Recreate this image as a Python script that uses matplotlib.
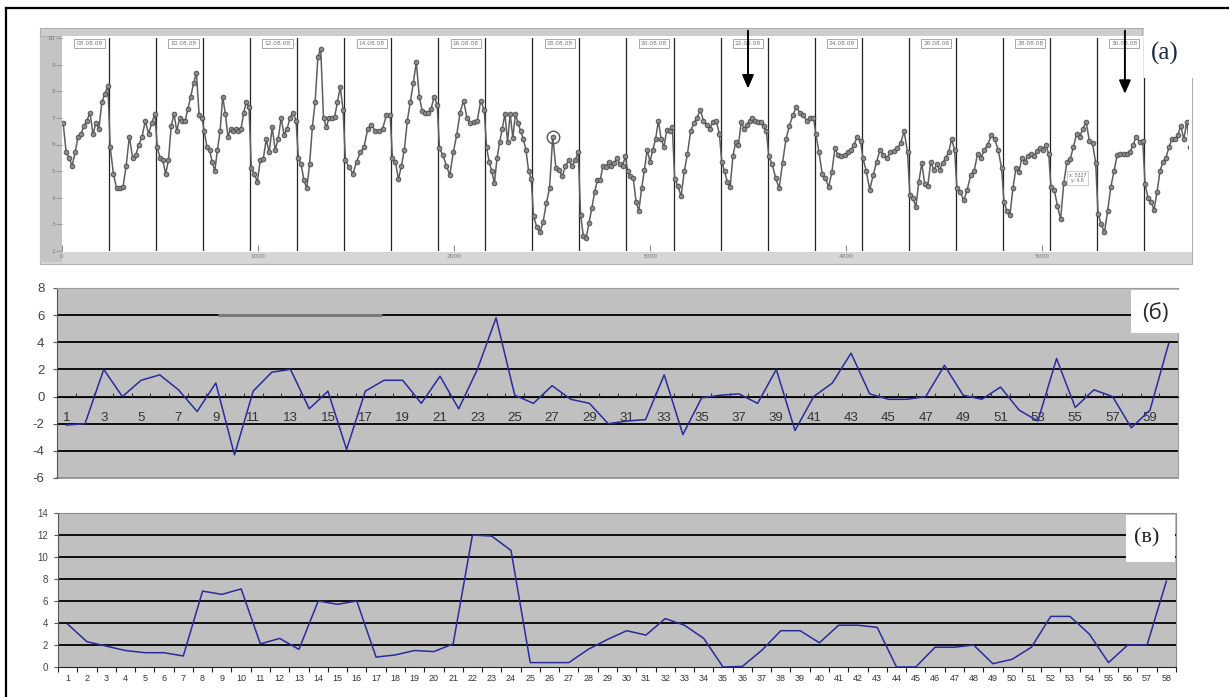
import numpy as np
import matplotlib
matplotlib.use("Agg")
import matplotlib.pyplot as plt
from matplotlib.patches import Rectangle

W, H = 1229, 697

# ---- panel (a): 24 days of readings, one list per day ----
A_DAY_LEN = 240
A_SEGMENTS = [
    [6.8, 5.7, 5.5, 5.2, 5.7, 6.3, 6.4, 6.7, 6.9, 7.2, 6.4, 6.8, 6.6, 7.6, 7.9, 8.2],
    [5.9, 4.9, 4.35, 4.35, 4.4, 5.2, 6.3, 5.5, 5.6, 6.0, 6.3, 6.9, 6.4, 6.8, 7.15],
    [5.9, 5.5, 5.4, 4.9, 5.4, 6.7, 7.15, 6.5, 7.0, 6.9, 6.9, 7.35, 7.8, 8.3, 8.7, 7.1, 7.0],
    [6.5, 5.9, 5.8, 5.35, 5.0, 5.8, 6.5, 7.8, 7.15, 6.3, 6.6, 6.5, 6.6, 6.5, 6.6, 7.2, 7.6, 7.4],
    [5.1, 4.9, 4.6, 5.4, 5.45, 6.2, 5.7, 6.65, 5.8, 6.2, 7.0, 6.35, 6.6, 7.0, 7.2, 6.9],
    [5.5, 5.25, 4.65, 4.35, 5.25, 6.65, 7.6, 9.3, 9.6, 7.0, 6.65, 7.0, 7.0, 7.05, 7.6, 8.15, 7.3],
    [5.4, 5.15, 4.9, 5.35, 5.7, 5.9, 6.6, 6.75, 6.5, 6.5, 6.6, 7.1, 7.1],
    [5.5, 5.35, 4.7, 5.2, 5.8, 6.9, 7.6, 8.3, 9.1, 7.8, 7.25, 7.2, 7.2, 7.35, 7.8, 7.5],
    [5.85, 5.6, 5.2, 4.85, 5.7, 6.35, 7.2, 7.65, 7.0, 6.8, 6.85, 6.9, 7.65, 7.3],
    [5.9, 5.35, 5.0, 4.55, 5.5, 6.1, 6.6, 7.15, 6.1, 7.15, 6.25, 7.15, 6.8, 6.5, 6.2, 5.8, 5.0, 4.7],
    [3.3, 2.9, 2.7, 3.1, 3.8, 4.35, 6.3, 5.1, 5.05, 4.8, 5.2, 5.4, 5.2, 5.4, 5.7],
    [3.35, 2.55, 2.5, 3.05, 3.6, 4.2, 4.65, 4.65, 5.2, 5.15, 5.35, 5.2, 5.3, 5.5, 5.25, 5.2, 5.55],
    [5.0, 4.8, 4.75, 3.85, 3.5, 4.35, 5.05, 5.8, 5.35, 5.8, 6.2, 6.9, 6.2, 5.9, 6.55, 6.5, 6.65],
    [4.7, 4.45, 4.05, 5.0, 5.65, 6.5, 6.8, 7.0, 7.3, 6.9, 6.75, 6.6, 6.85, 6.9, 6.4],
    [5.35, 5.0, 4.6, 4.4, 5.55, 6.1, 6.0, 6.85, 6.6, 6.75, 6.9, 7.0, 6.9, 6.85, 6.85, 6.7, 6.5],
    [5.55, 5.25, 4.75, 4.35, 5.3, 6.2, 6.7, 7.1, 7.4, 7.2, 7.1, 6.9, 7.0, 7.0],
    [6.4, 5.7, 4.9, 4.75, 4.4, 4.95, 5.85, 5.6, 5.55, 5.6, 5.7, 5.8, 6.0, 6.3, 6.15],
    [5.5, 5.0, 4.3, 4.85, 5.35, 5.8, 5.6, 5.5, 5.7, 5.75, 5.85, 6.05, 6.5, 5.7],
    [4.1, 4.0, 3.65, 4.6, 5.3, 4.5, 4.45, 5.35, 5.05, 5.25, 5.05, 5.3, 5.5, 5.7, 6.2, 5.8],
    [4.35, 4.2, 3.9, 4.3, 4.85, 5.0, 5.65, 5.5, 5.8, 6.0, 6.35, 6.2, 5.8, 5.1],
    [3.85, 3.5, 3.35, 4.35, 5.1, 4.95, 5.5, 5.35, 5.55, 5.65, 5.55, 5.75, 5.85, 5.8, 6.0, 5.65],
    [4.4, 4.3, 3.7, 3.2, 4.55, 5.35, 5.45, 5.9, 6.4, 6.3, 6.6, 6.85, 6.15, 6.05, 5.3],
    [3.4, 3.0, 2.7, 3.5, 4.4, 5.0, 5.6, 5.65, 5.65, 5.65, 5.7, 6.0, 6.3, 6.1, 6.15],
    [4.5, 4.0, 3.85, 3.55, 4.2, 5.0, 5.35, 5.5, 5.9, 6.2, 6.2, 6.35, 6.7, 6.2, 6.85, 5.9],
]
A_DATES = ["08.08.08", "10.08.08", "12.08.08", "14.08.08", "16.08.08", "18.08.08",
           "20.08.08", "22.08.08", "24.08.08", "26.08.08", "28.08.08", "30.08.08"]
A_XTICKS = [0, 1000, 2000, 3000, 4000, 5000]
A_YTICKS = [2, 3, 4, 5, 6, 7, 8, 9, 10]
A_HIGHLIGHT = (10, 6)          # day, point of the circled reading
A_ARROWS = [(3500, 8.0), (5423, 7.8)]

# ---- panel (б) ----
B_VALUES = [-2.1, -2.0, 2.0, 0.0, 1.2, 1.6, 0.5, -1.1, 1.0, -4.3,
            0.4, 1.8, 2.0, -0.9, 0.4, -3.9, 0.4, 1.2, 1.2, -0.5,
            1.5, -0.9, 2.0, 5.8, 0.1, -0.5, 0.8, -0.2, -0.5, -2.0,
            -1.8, -1.7, 1.6, -2.8, -0.1, 0.1, 0.2, -0.5, 2.0, -2.5,
            0.0, 1.0, 3.2, 0.2, -0.2, -0.2, 0.0, 2.3, 0.1, -0.2,
            0.7, -1.0, -1.8, 2.8, -0.8, 0.5, 0.0, -2.3, -1.0, 3.9]
B_YTICKS = [-6, -4, -2, 0, 2, 4, 6, 8]

# ---- panel (в) ----
C_VALUES = [3.9, 2.3, 1.9, 1.5, 1.3, 1.3, 1.0, 6.9, 6.6, 7.1,
            2.1, 2.6, 1.6, 6.0, 5.7, 6.0, 0.9, 1.1, 1.5, 1.4,
            2.1, 12.0, 11.9, 10.6, 0.4, 0.4, 0.4, 1.6, 2.5, 3.3,
            2.9, 4.4, 3.8, 2.6, 0.0, 0.05, 1.5, 3.3, 3.3, 2.2,
            3.8, 3.8, 3.6, 0.0, 0.0, 1.8, 1.8, 2.0, 0.3, 0.7,
            1.8, 4.6, 4.6, 3.0, 0.4, 2.0, 2.0, 7.8]
C_YTICKS = [0, 2, 4, 6, 8, 10, 12, 14]


def box(x0, y0, x1, y1):
    return [x0 / W, 1 - y1 / H, (x1 - x0) / W, (y1 - y0) / H]


def fig_rect(fig, x0, y0, x1, y1, fc, ec="none", lw=0.0, z=-1):
    fig.add_artist(Rectangle((x0 / W, 1 - y1 / H), (x1 - x0) / W, (y1 - y0) / H,
                             transform=fig.transFigure, fc=fc, ec=ec, lw=lw, zorder=z))


fig = plt.figure(figsize=(W / 100, H / 100), dpi=100)
fig.patch.set_facecolor("white")

# outer frame (top and left edges)
fig.add_artist(plt.Line2D([6 / W, 1], [1 - 8 / H] * 2, transform=fig.transFigure, color="k", lw=1.6))
fig.add_artist(plt.Line2D([6 / W] * 2, [0, 1 - 8 / H], transform=fig.transFigure, color="k", lw=1.6))

# ---------------- (a) ----------------
fig_rect(fig, 40, 28, 1192, 264, "#d6d6d6", "#b0b0b0", 0.8)
fig_rect(fig, 40, 28, 62, 262, "#c4c4c4")
fig_rect(fig, 40, 28, 1142, 36, "#cdcdcd", "#a8a8a8", 0.6)
fig_rect(fig, 62, 36, 1192, 252, "white")

ax_a = fig.add_axes(box(62, 38, 1188, 251))
xs_all, ys_all = [], []
for d, seg in enumerate(A_SEGMENTS):
    xs = d * A_DAY_LEN + np.linspace(6, A_DAY_LEN - 6, len(seg))
    xs_all.extend(xs)
    ys_all.extend(seg)
ax_a.plot(xs_all, ys_all, color="#5e5e5e", lw=1.1, marker="o", ms=3.4,
          mfc="#8a8a8a", mec="#4a4a4a", mew=0.6, zorder=3)
for d in range(1, len(A_SEGMENTS)):
    ax_a.axvline(d * A_DAY_LEN, color="#222222", lw=0.9, zorder=2)
for i, lab in enumerate(A_DATES):
    ax_a.text((2 * i) * A_DAY_LEN + 140, 9.8, lab, fontsize=4.2, color="#777777",
              ha="center", va="center", zorder=4,
              bbox=dict(boxstyle="square,pad=0.35", fc="white", ec="#999999", lw=0.6))
hd, hi = A_HIGHLIGHT
hx = hd * A_DAY_LEN + np.linspace(6, A_DAY_LEN - 6, len(A_SEGMENTS[hd]))[hi]
ax_a.plot(hx, A_SEGMENTS[hd][hi], "o", ms=9, mfc="none", mec="#555555", mew=1.0, zorder=4)
for ax_x, tip in A_ARROWS:
    ax_a.annotate("", xy=(ax_x, tip), xytext=(ax_x, 10.38), annotation_clip=False,
                  arrowprops=dict(arrowstyle="-|>,head_width=0.35,head_length=0.8",
                                  color="black", lw=1.4), zorder=6)
ax_a.text(5180, 4.74, "x: 5327\ny: 4.6", fontsize=3.3, color="#666666", ha="center",
          va="center", zorder=5,
          bbox=dict(boxstyle="square,pad=0.4", fc="white", ec="#bbbbbb", lw=0.5))
ax_a.set_xlim(0, (1188 - 62) / 0.196)
ax_a.set_ylim(2, 10)
ax_a.set_xticks(A_XTICKS)
ax_a.set_xticklabels([str(t) for t in A_XTICKS])
ax_a.set_yticks(A_YTICKS)
ax_a.tick_params(axis="x", direction="in", length=4, pad=2, labelsize=4.2,
                 colors="#8a8a8a", labelcolor="#7a7a7a")
ax_a.tick_params(axis="y", direction="out", length=4, pad=1, labelsize=4.2,
                 colors="#9a9a9a", labelcolor="#7a7a7a")
for s in ax_a.spines.values():
    s.set_visible(False)

# white patch with label (a)
fig_rect(fig, 1144, 18, 1212, 78, "white", z=5)
fig.text(1165 / W, 1 - 53 / H, "(a)", family=["Liberation Serif", "DejaVu Serif"],
         fontsize=18, color="#1d2a45", ha="center", va="center", zorder=6)

# ---------------- (б) ----------------
ax_b = fig.add_axes(box(57, 288, 1178, 478))
ax_b.set_facecolor("#c0c0c0")
cats_b = np.arange(1, len(B_VALUES) + 1)
for v in B_YTICKS[1:-1]:
    ax_b.axhline(v, color="black", lw=1.3, zorder=1)
ax_b.axhline(-6, color="#8c8c8c", lw=1.2, clip_on=False, zorder=1)
ax_b.hlines(6, 9.1, 17.9, color="#7a7a7a", lw=2.2, zorder=2)
ax_b.plot(cats_b, B_VALUES, color="#2b2b9e", lw=1.1, zorder=3)
ax_b.set_xlim(0.5, len(B_VALUES) + 0.5)
ax_b.set_ylim(-6, 8)
ax_b.set_yticks(B_YTICKS)
ax_b.set_yticklabels([str(v) for v in B_YTICKS])
ax_b.spines["bottom"].set_position(("data", 0))
ax_b.spines["bottom"].set_color("black")
ax_b.spines["left"].set_color("#555555")
ax_b.spines["top"].set_color("#9c9c9c")
ax_b.spines["right"].set_color("#9c9c9c")
odd = cats_b[::2]
ax_b.set_xticks(odd)
ax_b.set_xticklabels([str(c) for c in odd])
ax_b.set_xticks(np.arange(0.5, len(B_VALUES) + 1, 1), minor=True)
ax_b.tick_params(axis="x", which="major", length=0, pad=11, labelsize=9.5, labelcolor="#333333")
ax_b.tick_params(axis="x", which="minor", direction="in", length=3, width=0.8, color="#333333")
ax_b.tick_params(axis="y", direction="out", length=3, width=0.8, color="#555555",
                 labelsize=9.5, labelcolor="#444444", pad=6)
for lab in ax_b.get_xticklabels() + ax_b.get_yticklabels():
    lab.set_family(["Liberation Sans", "DejaVu Sans"])

fig_rect(fig, 1131, 290, 1188, 333, "white", z=5)
fig.text(1155 / W, 1 - 313 / H, "(б)", family=["Open Sans", "DejaVu Sans"],
         fontsize=16, color="#2a2a2a", ha="center", va="center", zorder=6)

# ---------------- (в) ----------------
ax_c = fig.add_axes(box(58, 513, 1176, 667))
ax_c.set_facecolor("#c0c0c0")
cats_c = np.arange(1, len(C_VALUES) + 1)
for v in C_YTICKS[1:-1]:
    ax_c.axhline(v, color="black", lw=1.3, zorder=1)
ax_c.plot(cats_c, C_VALUES, color="#2b2b9e", lw=1.1, zorder=3)
ax_c.set_xlim(0.5, len(C_VALUES) + 0.5)
ax_c.set_ylim(0, 14)
ax_c.set_yticks(C_YTICKS)
ax_c.set_yticklabels([str(v) for v in C_YTICKS])
ax_c.set_xticks(cats_c)
ax_c.set_xticklabels([str(c) for c in cats_c])
ax_c.set_xticks(np.arange(0.5, len(C_VALUES) + 1, 1), minor=True)
ax_c.tick_params(axis="x", which="major", length=0, pad=5, labelsize=6.5, labelcolor="#333333")
ax_c.tick_params(axis="x", which="minor", direction="out", length=3.5, width=0.8, color="#222222")
ax_c.tick_params(axis="y", direction="out", length=3, width=0.8, color="#555555",
                 labelsize=7, labelcolor="#444444", pad=4)
ax_c.spines["bottom"].set_color("#222222")
ax_c.spines["left"].set_color("#555555")
ax_c.spines["top"].set_color("#8c8c8c")
ax_c.spines["right"].set_color("#8c8c8c")
for lab in ax_c.get_xticklabels() + ax_c.get_yticklabels():
    lab.set_family(["Liberation Sans", "DejaVu Sans"])

fig_rect(fig, 1126, 515, 1175, 562, "white", z=5)
fig.text(1147 / W, 1 - 538 / H, "(в)", family=["Liberation Serif", "DejaVu Serif"],
         fontsize=16, color="#222222", ha="center", va="center", zorder=6)

fig.savefig("out.png", dpi=100)
